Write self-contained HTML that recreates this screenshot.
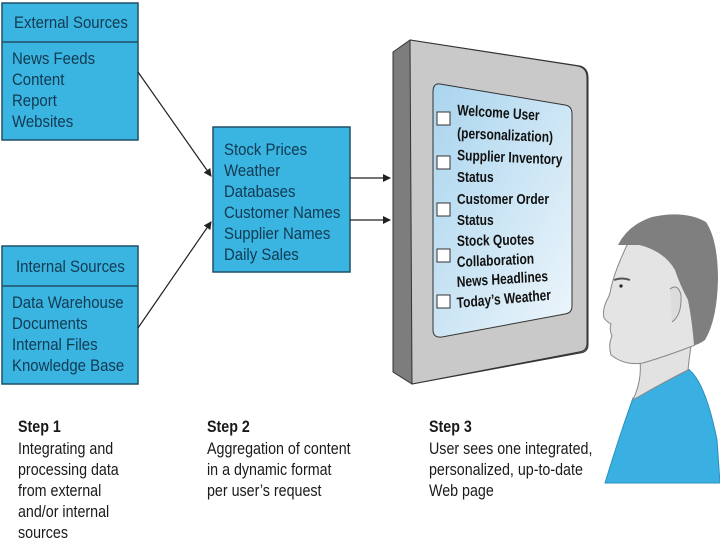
<!DOCTYPE html>
<html><head><style>
html,body{margin:0;padding:0;background:#fff;}
svg{display:block;}
text{font-family:"Liberation Sans",sans-serif;}
</style></head><body>
<svg width="720" height="540" viewBox="0 0 720 540" xmlns="http://www.w3.org/2000/svg">
<defs>
<marker id="ah" markerWidth="8" markerHeight="8" refX="7" refY="4" orient="auto" markerUnits="userSpaceOnUse">
<path d="M0,0 L8,4 L0,8 z" fill="#222"/></marker>
<linearGradient id="scr" x1="0" y1="0" x2="1" y2="1">
<stop offset="0" stop-color="#a9d4ee"/><stop offset="1" stop-color="#eef6fb"/></linearGradient>
</defs>
<g fill="#3ab4e0" stroke="#1f4f68" stroke-width="1.5">
<rect x="2" y="3" width="136" height="137"/>
<rect x="2" y="246" width="136" height="138"/>
<rect x="213" y="127" width="137" height="145"/>
</g>
<line x1="2" y1="42" x2="138" y2="42" stroke="#1f4f68" stroke-width="1.5"/>
<line x1="2" y1="286" x2="138" y2="286" stroke="#1f4f68" stroke-width="1.5"/>
<g fill="#123a52" font-size="17">
<g transform="translate(14,0) scale(0.88,1)"><text x="0" y="28">External Sources</text></g>
<g transform="translate(12,0) scale(0.88,1)">
<text x="0" y="64">News Feeds</text>
<text x="0" y="85">Content</text>
<text x="0" y="106">Report</text>
<text x="0" y="127">Websites</text>
<text x="0" y="308">Data Warehouse</text>
<text x="0" y="329">Documents</text>
<text x="0" y="350">Internal Files</text>
<text x="0" y="371">Knowledge Base</text>
</g>
<g transform="translate(16,0) scale(0.88,1)"><text x="0" y="272">Internal Sources</text></g>
<g transform="translate(224,0) scale(0.88,1)">
<text x="0" y="155">Stock Prices</text>
<text x="0" y="176">Weather</text>
<text x="0" y="197">Databases</text>
<text x="0" y="218">Customer Names</text>
<text x="0" y="239">Supplier Names</text>
<text x="0" y="260">Daily Sales</text>
</g>
</g>
<g stroke="#222" stroke-width="1.2" fill="none" marker-end="url(#ah)">
<line x1="138" y1="72" x2="211" y2="176"/>
<line x1="138" y1="328" x2="211" y2="222"/>
<line x1="350" y1="178" x2="390" y2="178"/>
<line x1="350" y1="220" x2="390" y2="220"/>
</g>
<!-- monitor -->
<path d="M393,52 L410,40 L580,66 Q588,68 588,78 L588,345 Q588,352 580,353 L412,384 L393,372 Z" fill="#7d7d7d" stroke="#333" stroke-width="1"/>
<path d="M410,40 L578,66 Q587,68 587,78 L587,343 Q587,351 579,352 L412,384 Z" fill="#c9c9c9" stroke="#333" stroke-width="1"/>
<path d="M440,84 L565,105 Q572,106 572,114 L572,306 Q572,313 565,314 L442,337 Q433,338 433,330 L433,92 Q433,83 440,84 Z" fill="url(#scr)" stroke="#333" stroke-width="1"/>
<g fill="#fff" stroke="#333" stroke-width="1">
<rect x="437" y="112" width="13" height="13"/>
<rect x="437" y="156" width="13" height="13"/>
<rect x="437" y="203" width="13" height="13"/>
<rect x="437" y="249" width="13" height="13"/>
<rect x="437" y="295" width="13" height="13"/>
</g>
<g fill="#111" font-size="15" font-weight="bold">
<g transform="translate(457,0) scale(0.8,1)">
<text x="0" y="115" transform="rotate(3 0 115)">Welcome User</text>
<text x="0" y="138" transform="rotate(2 0 138)">(personalization)</text>
<text x="0" y="160" transform="rotate(2 0 160)">Supplier Inventory</text>
<text x="0" y="182">Status</text>
<text x="0" y="204">Customer Order</text>
<text x="0" y="225">Status</text>
<text x="0" y="246" transform="rotate(-1 0 246)">Stock Quotes</text>
<text x="0" y="267" transform="rotate(-2 0 267)">Collaboration</text>
<text x="0" y="287" transform="rotate(-3 0 287)">News Headlines</text>
<text x="0" y="308" transform="rotate(-4 0 308)">Today’s Weather</text>
</g>
</g>
<!-- person -->
<path d="M633,398 Q660,382 687,368 Q705,380 717,440 L720,483 L605,483 Q618,440 633,398 Z" fill="#3ab0e2" stroke="#2a8fc0" stroke-width="1"/>
<path d="M640,362 Q642,380 633,400 Q660,384 688,370 Q690,350 693,335 Z" fill="#e2e2e2" stroke="#888" stroke-width="1"/>
<path d="M628,243 Q615,270 611,288 Q610,295 607,300 Q602,310 604,318 Q607,322 611,324 Q609,330 612,336 Q608,345 611,355 Q625,366 643,363 Q670,355 695,345 Q700,320 695,300 L680,270 Q660,245 628,243 Z" fill="#e4e4e4" stroke="#888" stroke-width="1"/>
<path d="M618,245 Q628,225 652,217 Q685,210 706,222 Q718,240 718,280 Q717,320 705,340 Q698,345 694,345 Q692,320 688,300 Q680,285 675,270 Q665,252 640,245 Q628,245 618,245 Z" fill="#7f7f7f"/>
<path d="M670,289 Q678,283 681,295 Q682,315 672,322" fill="#dcdcdc" stroke="#888" stroke-width="1"/>
<path d="M614,280 Q622,277 630,280" stroke="#555" stroke-width="2" fill="none"/>
<circle cx="621" cy="286" r="1.6" fill="#222"/>
<!-- steps -->
<g fill="#1a1a1a" font-size="17">
<g transform="translate(18,0) scale(0.84,1)">
<text x="0" y="432" font-weight="bold">Step 1</text>
<text x="0" y="454">Integrating and</text>
<text x="0" y="475">processing data</text>
<text x="0" y="496">from external</text>
<text x="0" y="517">and/or internal</text>
<text x="0" y="538">sources</text>
</g>
<g transform="translate(207,0) scale(0.84,1)">
<text x="0" y="432" font-weight="bold">Step 2</text>
<text x="0" y="454">Aggregation of content</text>
<text x="0" y="475">in a dynamic format</text>
<text x="0" y="496">per user’s request</text>
</g>
<g transform="translate(429,0) scale(0.84,1)">
<text x="0" y="432" font-weight="bold">Step 3</text>
<text x="0" y="454">User sees one integrated,</text>
<text x="0" y="475">personalized, up-to-date</text>
<text x="0" y="496">Web page</text>
</g>
</g>
</svg>
</body></html>
